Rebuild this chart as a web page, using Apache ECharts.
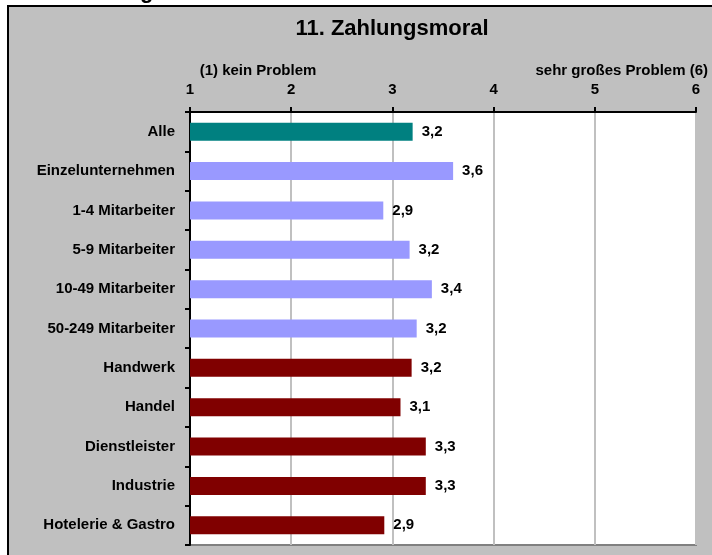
<!DOCTYPE html>
<html>
<head>
<meta charset="utf-8">
<style>
html,body{margin:0;padding:0;background:#ffffff;}
#chart{width:712px;height:555px;}
</style>
<script src="https://cdn.jsdelivr.net/npm/echarts@6/dist/echarts.min.js"></script>
</head>
<body>
<div id="chart"></div>
<script>
var categories = ["Alle","Einzelunternehmen","1-4 Mitarbeiter","5-9 Mitarbeiter","10-49 Mitarbeiter","50-249 Mitarbeiter","Handwerk","Handel","Dienstleister","Industrie","Hotelerie & Gastro"];
var values = [3.2, 3.6, 2.91, 3.17, 3.39, 3.24, 3.19, 3.08, 3.33, 3.33, 2.92];
var groups = ["total","size","size","size","size","size","sector","sector","sector","sector","sector"];
var groupColors = {total:"#008080", size:"#9999FF", sector:"#800000"};
var axisTicks = [1,2,3,4,5,6];
var titleText = "11. Zahlungsmoral";
var leftNote = "(1) kein Problem";
var rightNote = "sehr großes Problem (6)";

var FONT = '"Liberation Sans", Arial, sans-serif';
var chart = echarts.init(document.getElementById('chart'));

var data = values.map(function(v,i){
  return {value:v, itemStyle:{color:groupColors[groups[i]]}};
});

chart.setOption({
  backgroundColor:'#ffffff',
  animation:false,
  graphic:[
    {type:'rect', z:-10, shape:{x:8,y:6,width:720,height:560}, style:{fill:'#c0c0c0', stroke:'#000000', lineWidth:2}},
    {type:'text', z:-5, left:140, top:-19, style:{text:'g', font:'bold 22px '+FONT, fill:'#000'}},
    {type:'text', style:{text:titleText, font:'bold 22px '+FONT, fill:'#000', x:392, y:29, align:'center', verticalAlign:'middle'}},
    {type:'text', style:{text:leftNote, font:'bold 15px '+FONT, fill:'#000', x:258, y:71, align:'center', verticalAlign:'middle'}},
    {type:'text', style:{text:rightNote, font:'bold 15px '+FONT, fill:'#000', x:708, y:71, align:'right', verticalAlign:'middle'}}
  ],
  grid:{left:190, top:112, width:506, height:433, show:true, backgroundColor:'#ffffff', borderColor:'#808080', borderWidth:2, containLabel:false},
  xAxis:{
    type:'value', position:'top', min:1, max:6, interval:1,
    axisLine:{show:true, onZero:false, lineStyle:{color:'#000', width:2}},
    axisTick:{show:true, length:5, lineStyle:{color:'#000', width:2}},
    axisLabel:{margin:15, color:'#000', fontWeight:'bold', fontSize:15, fontFamily:FONT,
      formatter:function(v){ return axisTicks.indexOf(v)>=0 ? String(v) : ''; }},
    splitLine:{show:true, lineStyle:{color:'#c0c0c0', width:2}}
  },
  yAxis:{
    type:'category', data:categories, inverse:true,
    axisLine:{show:true, lineStyle:{color:'#000', width:2}},
    axisTick:{show:true, length:5, lineStyle:{color:'#000', width:2}},
    axisLabel:{margin:15, color:'#000', fontWeight:'bold', fontSize:15, fontFamily:FONT},
    splitLine:{show:false}
  },
  series:[{
    type:'bar', data:data, barWidth:18,
    label:{show:true, position:'right', distance:9, color:'#000', fontWeight:'bold', fontSize:15, fontFamily:FONT,
      formatter:function(p){ return (Math.round(p.value*10)/10).toFixed(1).replace('.', ','); }}
  }]
});
</script>
</body>
</html>
